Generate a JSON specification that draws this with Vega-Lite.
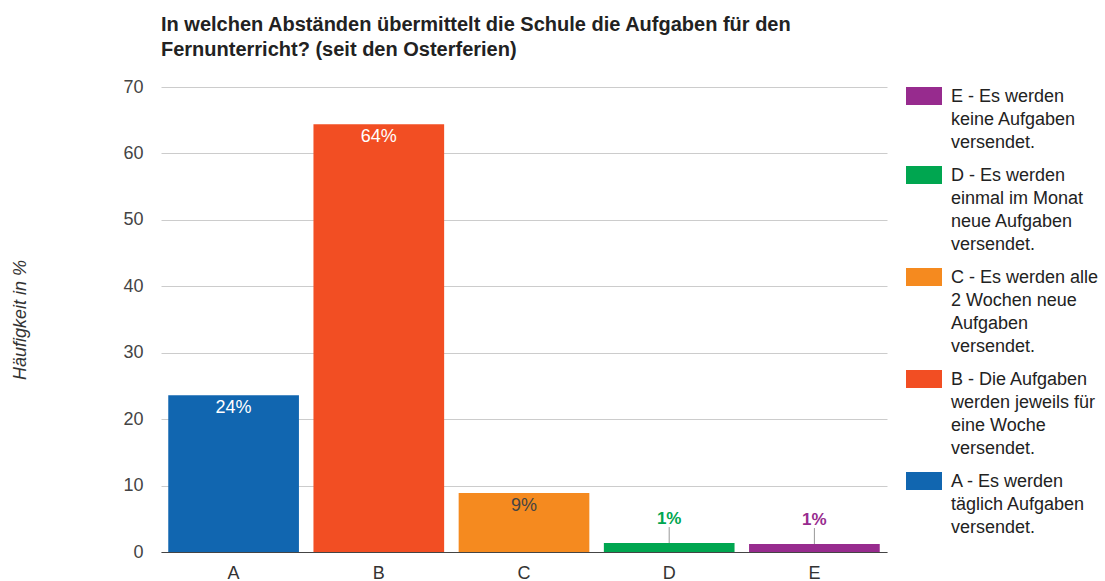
{
  "$schema": "https://vega.github.io/schema/vega-lite/v6.json",
  "width": 726,
  "height": 465,
  "padding": {"left": 11, "top": 15, "right": 0, "bottom": 0},
  "title": {
    "text": ["In welchen Abständen übermittelt die Schule die Aufgaben für den", "Fernunterricht? (seit den Osterferien)"],
    "anchor": "start",
    "frame": "group",
    "font": "Liberation Sans",
    "fontSize": 20,
    "fontWeight": "bold",
    "color": "#222222",
    "lineHeight": 25,
    "offset": 18
  },
  "config": {
    "view": {"stroke": null},
    "font": "Liberation Sans",
    "axis": {"labelFont": "Liberation Sans", "titleFont": "Liberation Sans"}
  },
  "data": {
    "values": [
      {"cat": "A", "value": 23.6, "label": "24%", "legend": "A - Es werden|täglich Aufgaben|versendet."},
      {"cat": "B", "value": 64.4, "label": "64%", "legend": "B - Die Aufgaben|werden jeweils für|eine Woche|versendet."},
      {"cat": "C", "value": 8.9, "label": "9%", "legend": "C - Es werden alle|2 Wochen neue|Aufgaben|versendet."},
      {"cat": "D", "value": 1.35, "label": "1%", "legend": "D - Es werden|einmal im Monat|neue Aufgaben|versendet."},
      {"cat": "E", "value": 1.2, "label": "1%", "legend": "E - Es werden|keine Aufgaben|versendet."}
    ]
  },
  "encoding": {
    "x": {
      "field": "cat",
      "type": "nominal",
      "sort": ["A", "B", "C", "D", "E"],
      "scale": {"paddingInner": 0.1, "paddingOuter": 0.05},
      "axis": {
        "title": null,
        "labelAngle": 0,
        "labelFontSize": 18,
        "labelColor": "#333333",
        "labelPadding": 12,
        "ticks": false,
        "domain": true,
        "domainColor": "#444444",
        "domainWidth": 1.2,
        "grid": false
      }
    }
  },
  "layer": [
    {
      "mark": {"type": "bar"},
      "encoding": {
        "y": {
          "field": "value",
          "type": "quantitative",
          "scale": {"domain": [0, 70], "nice": false},
          "axis": {
            "values": [0, 5, 10, 15, 20, 25, 30, 35, 40, 45, 50, 55, 60, 65, 70],
            "labelExpr": "datum.value % 10 == 0 ? datum.label : ''",
            "gridColor": {"condition": {"test": "datum.value % 10 == 0", "value": "#cccccc"}, "value": "#ebebeb"},
            "title": "Häufigkeit in %",
            "titleFontStyle": "italic",
            "titleFontWeight": "normal",
            "titleFontSize": 18,
            "titleColor": "#333333",
            "titlePadding": 93,
            "labelFontSize": 18,
            "labelColor": "#444444",
            "labelPadding": 18,
            "ticks": false,
            "domain": false
          }
        },
        "color": {
          "field": "legend",
          "type": "nominal",
          "scale": {
            "domain": [
              "E - Es werden|keine Aufgaben|versendet.",
              "D - Es werden|einmal im Monat|neue Aufgaben|versendet.",
              "C - Es werden alle|2 Wochen neue|Aufgaben|versendet.",
              "B - Die Aufgaben|werden jeweils für|eine Woche|versendet.",
              "A - Es werden|täglich Aufgaben|versendet."
            ],
            "range": ["#972b8e", "#00a650", "#f58a1f", "#f24e23", "#1166b0"]
          },
          "legend": {
            "title": null,
            "orient": "none",
            "legendX": 745,
            "legendY": -9,
            "labelFontSize": 18,
            "labelFont": "Liberation Sans",
            "labelColor": "#222222",
            "labelExpr": "split(datum.label, '|')",
            "labelLimit": 400,
            "labelOffset": 9,
            "labelBaseline": "top",
            "rowPadding": 5,
            "symbolType": "M-1,-0.5H1V0.5H-1Z",
            "symbolSize": 1296,
            "symbolStrokeWidth": 0,
            "symbolOpacity": 1,
            "encoding": {"labels": {"lineHeight": {"value": 23}, "dy": {"value": -8}}}
          }
        }
      }
    },
    {
      "transform": [{"filter": "datum.cat == 'A' || datum.cat == 'B' || datum.cat == 'C'"}],
      "mark": {"type": "text", "baseline": "top", "dy": 4, "fontSize": 18, "font": "Liberation Sans"},
      "encoding": {
        "y": {"field": "value", "type": "quantitative"},
        "text": {"field": "label"},
        "color": {"condition": {"test": "datum.cat == 'C'", "value": "#444444"}, "value": "#ffffff"}
      }
    },
    {
      "transform": [{"filter": "datum.cat == 'D' || datum.cat == 'E'"}],
      "mark": {"type": "rule", "color": "#999999", "strokeWidth": 1, "y2Offset": -16},
      "encoding": {
        "y": {"field": "value", "type": "quantitative"},
        "y2": {"field": "value"}
      }
    },
    {
      "transform": [{"filter": "datum.cat == 'D' || datum.cat == 'E'"}],
      "mark": {"type": "text", "baseline": "alphabetic", "dy": -19, "fontSize": 17, "fontWeight": "bold", "font": "Liberation Sans"},
      "encoding": {
        "y": {"field": "value", "type": "quantitative"},
        "text": {"field": "label"},
        "color": {"field": "legend", "type": "nominal", "legend": null}
      }
    }
  ]
}
